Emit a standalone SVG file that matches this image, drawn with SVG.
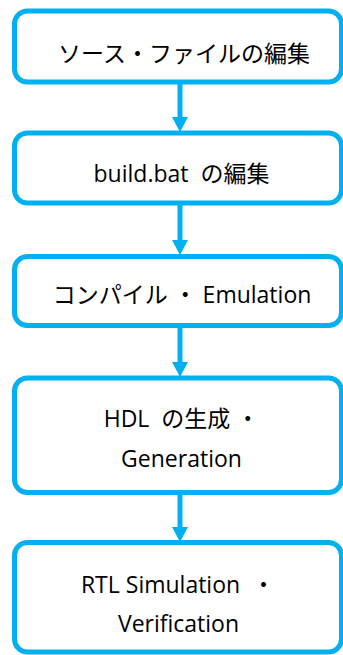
<svg xmlns="http://www.w3.org/2000/svg" width="343" height="655" viewBox="0 0 343 655">
<style>
.box{fill:#fff;stroke:#00B0F0;stroke-width:5}
.lbl{font-family:"Open Sans","Noto Sans CJK JP",sans-serif;font-size:23px;fill:#000;text-anchor:middle}
.conn{stroke:#00B0F0;stroke-width:5;fill:none}
</style>
<defs>
<marker id="ah" markerUnits="userSpaceOnUse" markerWidth="15" markerHeight="16" refX="0" refY="8" orient="auto">
<path d="M0,0 L15,8 L0,16 Z" fill="#00B0F0"/>
</marker>
</defs>
<rect width="343" height="655" fill="#fff"/>
<g id="connectors">
<path class="conn" d="M180,84 V117" marker-end="url(#ah)"/>
<path class="conn" d="M180,205 V240" marker-end="url(#ah)"/>
<path class="conn" d="M180,328 V362" marker-end="url(#ah)"/>
<path class="conn" d="M180,495 V527" marker-end="url(#ah)"/>
</g>
<g id="n1">
<rect class="box" x="14.5" y="11" width="327" height="71" rx="13"/>
<text class="lbl" x="184" y="62">ソース・ファイルの編集</text>
</g>
<g id="n2">
<rect class="box" x="14.5" y="133" width="327" height="70" rx="13"/>
<text class="lbl" x="181.5" y="182" xml:space="preserve">build.bat  の編集</text>
</g>
<g id="n3">
<rect class="box" x="14.5" y="256.5" width="327" height="69" rx="13"/>
<text class="lbl" x="182" y="303" xml:space="preserve">コンパイル ・ Emulation</text>
</g>
<g id="n4">
<rect class="box" x="14.5" y="378" width="327" height="114.5" rx="13"/>
<text class="lbl" x="181.5" y="427" xml:space="preserve">HDL  の生成 ・</text>
<text class="lbl" x="181.5" y="467">Generation</text>
</g>
<g id="n5">
<rect class="box" x="14.5" y="542.5" width="327" height="109.5" rx="13"/>
<text class="lbl" x="178" y="593" xml:space="preserve">RTL Simulation  ・</text>
<text class="lbl" x="178.5" y="632">Verification</text>
</g>
</svg>
